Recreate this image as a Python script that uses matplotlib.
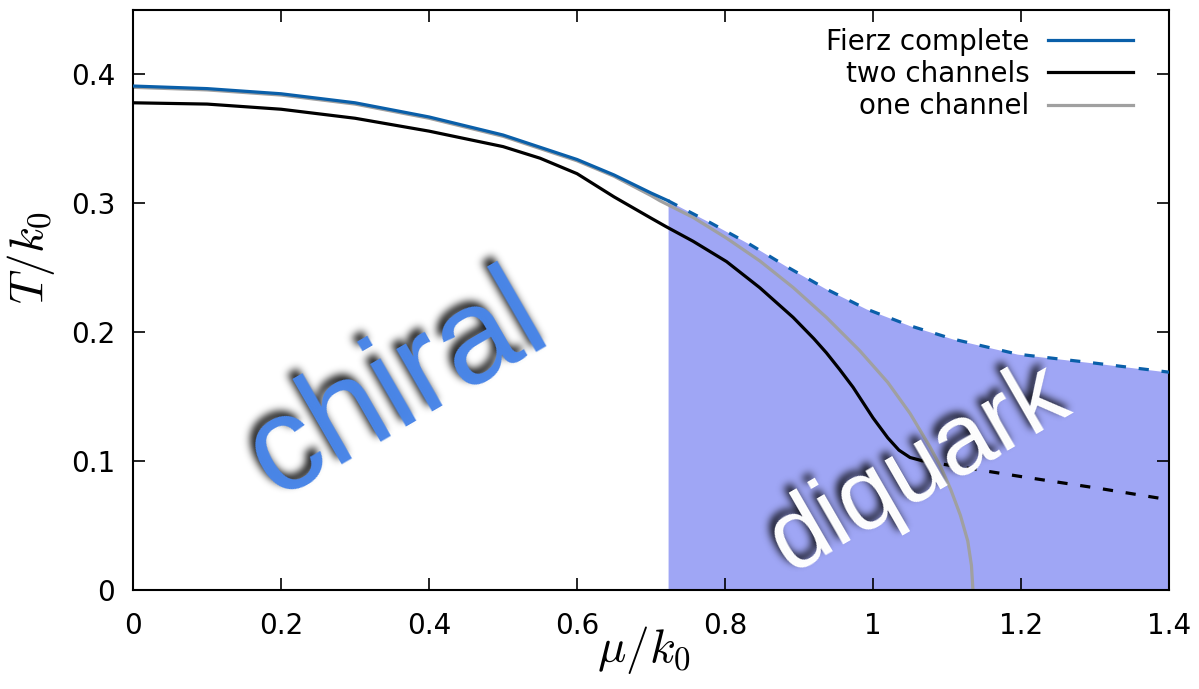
import numpy as np
import matplotlib
matplotlib.use("Agg")
import matplotlib.pyplot as plt
from matplotlib.lines import Line2D
from matplotlib.transforms import offset_copy

plt.rcParams["mathtext.fontset"] = "cm"

# --- data ---
# Fierz complete: solid part (chiral boundary) and dashed part (diquark boundary)
mu_fierz = [0, 0.1, 0.2, 0.3, 0.4, 0.5, 0.6, 0.65, 0.7, 0.723]
T_fierz = [0.391, 0.389, 0.385, 0.378, 0.367, 0.353, 0.334, 0.322, 0.308, 0.302]
mu_fierz_dash = [0.723, 0.78, 0.834, 0.886, 0.937, 0.991, 1.05, 1.108, 1.195,
                 1.3, 1.4]
T_fierz_dash = [0.302, 0.285, 0.268, 0.250, 0.2334, 0.218, 0.205, 0.1947,
                0.183, 0.176, 0.169]

# two channels
mu_two = [0, 0.1, 0.2, 0.3, 0.4, 0.5, 0.55, 0.6, 0.65, 0.7, 0.72, 0.757,
          0.802, 0.847, 0.892, 0.92, 0.937, 0.955, 0.973, 1.0, 1.02, 1.035,
          1.05, 1.065]
T_two = [0.378, 0.377, 0.373, 0.366, 0.356, 0.344, 0.335, 0.323, 0.305, 0.2885,
         0.282, 0.2705, 0.2548, 0.2345, 0.2115, 0.195, 0.184, 0.171, 0.1573,
         0.1335, 0.118, 0.1085, 0.1028, 0.1005]
mu_two_dash = [1.065, 1.09, 1.2, 1.307, 1.4]
T_two_dash = [0.1005, 0.098, 0.088, 0.0787, 0.070]

# one channel
mu_one = [0, 0.1, 0.2, 0.3, 0.4, 0.5, 0.6, 0.65, 0.7, 0.712, 0.757, 0.802,
          0.847, 0.892, 0.937, 0.982, 1.02, 1.05, 1.077, 1.091, 1.105, 1.118,
          1.128, 1.133, 1.135]
T_one = [0.390, 0.388, 0.384, 0.377, 0.366, 0.352, 0.333, 0.321, 0.306, 0.302,
         0.289, 0.273, 0.2553, 0.2347, 0.2115, 0.1857, 0.161, 0.137, 0.111,
         0.096, 0.078, 0.058, 0.038, 0.019, 0.0]

x_ticks = [0, 0.2, 0.4, 0.6, 0.8, 1.0, 1.2, 1.4]
x_labels = ["0", "0.2", "0.4", "0.6", "0.8", "1", "1.2", "1.4"]
y_ticks = [0, 0.1, 0.2, 0.3, 0.4]
y_labels = ["0", "0.1", "0.2", "0.3", "0.4"]

blue = "#0a5fa9"
gray = "#a0a0a0"
fill_col = "#9fa6f5"
chiral_col = "#4a86e8"


def gblur(a, s):
    r = int(3 * s)
    k = np.arange(-r, r + 1)
    w = np.exp(-k**2 / (2.0 * s * s))
    w /= w.sum()
    for axis in (0, 1):
        out = np.zeros_like(a)
        for kk, wk in zip(k, w):
            out += wk * np.roll(a, kk, axis=axis)
        a = out
    return a


def blur_filter(sigma, alpha):
    # soft dark copy of whatever is drawn (used for the text shadows)
    def f(im, dpi):
        pad = int(3 * sigma) + 2
        a = np.pad(im[:, :, 3], pad)
        a = gblur(a, sigma)
        out = np.zeros(a.shape + (4,))
        out[..., 3] = np.clip(a * alpha, 0, 1)
        return out, -pad, -pad
    return f


fig = plt.figure(figsize=(11.99, 6.89), dpi=100)
ax = fig.add_axes([0.111, 0.1437, 0.864, 0.8418])

ax.fill_between(mu_fierz_dash, 0, T_fierz_dash, color=fill_col, lw=0, zorder=1)

lw = 2.3
dash = (3.2, 4.0)
ax.plot(mu_one, T_one, color=gray, lw=lw, zorder=2)
ax.plot(mu_two, T_two, color="black", lw=lw, zorder=3)
ax.plot(mu_two_dash, T_two_dash, color="black", lw=lw, dashes=dash, zorder=3)
ax.plot(mu_fierz, T_fierz, color=blue, lw=lw, zorder=4)
ax.plot(mu_fierz_dash, T_fierz_dash, color=blue, lw=lw, dashes=dash, zorder=4)

# region labels with blurred drop shadow (shadow shifted up-left)
shadow_tr = offset_copy(ax.transData, fig=fig, x=-5, y=5, units="dots")
for txt, x, y, size, col in [("chiral", 0.38, 0.133, 97, chiral_col),
                             ("diquark", 1.08, 0.076, 72, "white")]:
    kw = dict(fontsize=size, family="Liberation Sans", rotation=30,
              rotation_mode="anchor", ha="center", va="baseline")
    ax.text(x, y, txt, color="black", zorder=5, transform=shadow_tr,
            agg_filter=blur_filter(4.0, 0.95), **kw)
    ax.text(x, y, txt, color=col, zorder=6, **kw)

ax.set_xlim(0, 1.4)
ax.set_ylim(0, 0.45)
ax.set_xticks(x_ticks)
ax.set_xticklabels(x_labels)
ax.set_yticks(y_ticks)
ax.set_yticklabels(y_labels)
ax.tick_params(direction="in", length=8.5, width=1.2, labelsize=20,
               top=True, right=True)
ax.tick_params(axis="x", pad=16)
ax.tick_params(axis="y", pad=13)
for s in ax.spines.values():
    s.set_linewidth(1.5)

ax.set_xlabel(r"$\mu/k_0$", fontsize=34)
ax.set_ylabel(r"$T/k_0$", fontsize=34)
ax.xaxis.set_label_coords(0.493, -0.058)
ax.yaxis.set_label_coords(-0.073, 0.574)

handles = [Line2D([], [], color=blue, lw=lw),
           Line2D([], [], color="black", lw=lw),
           Line2D([], [], color=gray, lw=lw)]
ax.legend(handles, ["Fierz complete", "two channels", "one channel"],
          loc="upper right", bbox_to_anchor=(0.965, 0.969), frameon=False,
          fontsize=20, markerfirst=False, handlelength=3.06, handletextpad=0.65,
          labelspacing=0.15, borderpad=0, borderaxespad=0)

fig.savefig("out.png", dpi=100)
